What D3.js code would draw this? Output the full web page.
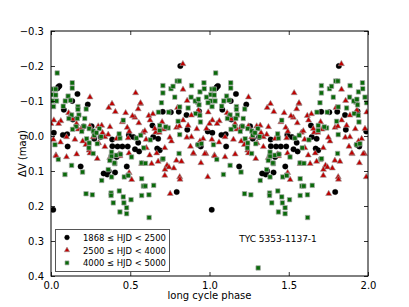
<!DOCTYPE html>
<html><head><meta charset="utf-8">
<script src="https://cdn.jsdelivr.net/npm/d3@7"></script>
<style>body{margin:0;background:#fff}svg{display:block}text{font-family:"DejaVu Sans",sans-serif;fill:#000}</style>
</head><body>
<script>
// phase in [0,1); each point is drawn at phase and phase+1
const black = [
[0.014,0.211],[0.040,-0.136],[0.046,-0.140],[0.053,-0.143],[0.167,-0.120],[0.232,-0.090],[0.134,-0.100],[0.138,-0.047],[0.081,-0.075],[0.816,-0.200],
[0.705,-0.069],[0.756,-0.068],[0.806,-0.069],[0.855,-0.060],[0.934,-0.071],[0.989,-0.013],[0.018,-0.009],[0.075,-0.003],[0.102,-0.005],[0.205,-0.027],
[0.256,-0.028],[0.105,0.030],[0.273,0.008],[0.313,0.003],[0.387,0.029],[0.420,0.030],[0.450,0.030],[0.484,0.030],[0.386,0.010],[0.414,0.060],
[0.435,0.053],[0.491,-0.003],[0.520,0.003],[0.550,0.019],[0.556,0.044],[0.530,0.038],[0.640,-0.030],[0.645,0.003],[0.676,0.008],[0.670,0.036],
[0.686,0.041],[0.860,-0.018],[0.929,0.025],[0.945,0.030],[0.187,0.087],[0.332,0.107],[0.355,0.110],[0.364,0.100],[0.404,0.104],[0.478,0.087],[0.793,0.160]
];
const red = [
[0.832,-0.206],[0.246,-0.111],[0.364,-0.081],[0.385,-0.092],[0.406,-0.069],[0.471,-0.066],[0.534,-0.123],[0.550,-0.077],[0.529,-0.053],[0.617,-0.058],
[0.643,-0.063],[0.625,-0.045],[0.833,-0.133],[0.798,-0.081],[0.859,-0.101],[0.111,-0.066],[0.124,-0.059],[0.137,-0.048],[0.018,-0.045],[0.062,-0.043],
[0.000,-0.035],[0.048,-0.035],[0.161,-0.035],[0.193,-0.021],[0.172,-0.019],[0.245,-0.028],[0.298,-0.028],[0.320,-0.030],[0.372,-0.026],[0.325,-0.009],
[0.340,0.003],[0.361,-0.004],[0.266,0.003],[0.098,0.003],[0.151,0.010],[0.481,-0.024],[0.494,-0.013],[0.487,0.006],[0.414,0.008],[0.978,0.051],
[0.098,0.060],[0.031,0.055],[0.241,0.041],[0.292,0.065],[0.435,0.057],[0.989,0.117],[0.564,-0.092],[0.514,-0.057],[0.554,-0.037],[0.701,-0.040],
[0.711,-0.019],[0.834,-0.045],[0.865,-0.030],[0.886,0.003],[0.960,0.008],[0.981,-0.021],[0.602,0.034],[0.718,0.034],[0.623,0.055],[0.676,0.073],
[0.791,0.070],[0.823,0.073],[0.900,0.051],[0.970,0.051],[0.732,0.084],[0.775,0.092],[0.718,0.113],[0.812,0.117],[0.493,0.105],[0.032,0.057],
[0.162,0.052],[0.246,0.049],[0.371,0.062],[0.429,0.052],[0.492,0.049],[0.509,0.125],[0.572,0.079],[0.635,0.079],[0.719,0.096],[0.744,0.089],
[0.814,0.124],[0.752,0.165],[0.898,0.049],[0.946,0.077],[0.667,0.049],[0.015,0.010],[0.060,0.018],[0.200,0.015],[0.220,0.025],[0.300,0.020],
[0.450,-0.040],[0.580,-0.010],[0.600,0.010],[0.660,-0.010],[0.760,0.015],[0.920,-0.020],[0.940,0.015],[0.880,0.030],[0.886,-0.059],[0.930,-0.073],
[0.992,-0.068],[0.792,-0.024],[0.810,-0.028],[0.683,-0.010],[0.750,0.004],[0.857,0.004],[0.565,-0.094],[0.592,-0.014],[0.655,-0.021],[0.340,0.031]
];
const green = [
[0.039,-0.180],[0.134,-0.152],[0.134,-0.137],[0.015,-0.134],[0.030,-0.134],[0.008,-0.118],[0.030,-0.117],[0.108,-0.114],[0.007,-0.100],[0.035,-0.100],
[0.090,-0.100],[0.123,-0.102],[0.077,-0.085],[0.016,-0.084],[0.170,-0.084],[0.170,-0.076],[0.222,-0.077],[0.130,-0.060],[0.176,-0.060],[0.213,-0.050],
[0.113,-0.050],[0.166,-0.050],[0.158,-0.027],[0.208,-0.028],[0.241,-0.021],[0.267,-0.014],[0.273,-0.002],[0.305,-0.021],[0.316,0.002],[0.194,-0.013],
[0.225,0.008],[0.136,-0.019],[0.241,0.020],[0.239,0.034],[0.292,0.022],[0.435,0.006],[0.430,-0.006],[0.382,0.046],[0.378,0.060],[0.403,0.079],
[0.046,0.067],[0.130,0.084],[0.088,0.110],[0.199,0.103],[0.361,0.096],[0.462,0.117],[0.025,0.025],[0.456,-0.045],[0.287,-0.009],[0.221,0.165],
[0.261,0.168],[0.320,0.127],[0.379,0.163],[0.379,0.170],[0.393,0.191],[0.400,0.077],[0.431,0.157],[0.435,0.217],[0.456,0.174],[0.460,0.191],
[0.477,0.205],[0.477,0.222],[0.488,0.112],[0.505,0.182],[0.382,0.117],[0.572,0.122],[0.583,0.143],[0.595,0.143],[0.648,0.141],[0.572,0.170],
[0.618,0.168],[0.619,0.233],[0.571,0.077],[0.596,0.078],[0.382,0.058],[0.413,0.055],[0.438,0.052],[0.266,0.050],[0.371,0.070],[0.702,0.067],
[0.808,0.050],[0.307,0.377],[0.697,-0.095],[0.781,-0.111],[0.812,-0.083],[0.865,-0.080],[0.913,-0.064],[0.939,-0.059],[0.943,-0.040],[0.924,-0.097],
[0.934,-0.089],[0.981,-0.111],[0.991,-0.095],[0.678,-0.068],[0.743,-0.068],[0.739,-0.023],[0.724,-0.026],[0.686,-0.016],[0.812,-0.004],[0.802,-0.042],
[0.928,0.025],[0.949,0.022],[0.539,0.006],[0.566,-0.002],[0.585,0.034],[0.508,0.060],[0.707,0.065],[0.487,0.113],[0.627,0.011],[0.686,-0.030],
[0.706,-0.144],[0.706,-0.123],[0.757,-0.135],[0.770,-0.142],[0.796,-0.157],[0.810,-0.157],[0.887,-0.144],[0.884,-0.111],[0.910,-0.100],[0.930,-0.105],
[0.940,-0.126],[0.965,-0.152],[0.967,-0.135]
];
const xTicks = [0.0, 0.5, 1.0, 1.5, 2.0];
const yTicks = [-0.3, -0.2, -0.1, 0.0, 0.1, 0.2, 0.3, 0.4];
const legendLabels = ["1868 \u2264 HJD < 2500", "2500 \u2264 HJD < 4000", "4000 \u2264 HJD < 5000"];
const xLabel = "long cycle phase", yLabel = "\u0394V (mag)", starName = "TYC 5353-1137-1";

const W = 409, H = 307, L = 51, R = 368, T = 31, B = 276;
const svg = d3.select("body").append("svg").attr("width", W).attr("height", H);
const x = d3.scaleLinear().domain([0, 2]).range([L, R]);
const y = d3.scaleLinear().domain([-0.3, 0.4]).range([T, B]);

svg.append("clipPath").attr("id","clip").append("rect").attr("x",L).attr("y",T).attr("width",R-L).attr("height",B-T);
const g = svg.append("g").attr("clip-path","url(#clip)");
const dup = arr => arr.flatMap(d => [[d[0], d[1]], [d[0] + 1, d[1]]]);

const styles = [
  {data: black, shape: d3.symbolCircle, size: 24, fill: "#000", stroke: "#000", sw: 0.3},
  {data: red, shape: d3.symbolTriangle, size: 16, fill: "#c00000", stroke: "#999", sw: 0.6},
  {data: green, shape: d3.symbolSquare, size: 20, fill: "#0a6a0a", stroke: "#aaa", sw: 0.7}
];
styles.forEach(s => {
  g.selectAll(null).data(dup(s.data)).enter().append("path")
    .attr("transform", d => `translate(${x(d[0])},${y(d[1])})`)
    .attr("d", d3.symbol().type(s.shape).size(s.size))
    .attr("fill", s.fill).attr("stroke", s.stroke).attr("stroke-width", s.sw);
});

const fmt = v => (v < 0 ? "\u2212" : "") + Math.abs(v).toFixed(1);
const fs = 10;
const axB = d3.axisBottom(x).tickValues(xTicks).tickSize(-4).tickPadding(6).tickFormat(fmt);
const axT = d3.axisTop(x).tickValues(xTicks).tickSize(-4).tickFormat("");
const axL = d3.axisLeft(y).tickValues(yTicks).tickSize(-4).tickPadding(7).tickFormat(fmt);
const axR = d3.axisRight(y).tickValues(yTicks).tickSize(-4).tickFormat("");
[[axB, `translate(0,${B})`], [axT, `translate(0,${T})`], [axL, `translate(${L},0)`], [axR, `translate(${R},0)`]].forEach(([a, tr]) => {
  const gg = svg.append("g").attr("transform", tr).call(a);
  gg.select(".domain").remove();
  gg.selectAll("line").attr("stroke", "#000").attr("stroke-width", 0.8);
  gg.selectAll("text").attr("font-size", fs).attr("font-family", "DejaVu Sans");
});
svg.append("rect").attr("x", L).attr("y", T).attr("width", R - L).attr("height", B - T)
  .attr("fill", "none").attr("stroke", "#000").attr("stroke-width", 1);

svg.append("text").attr("x", (L + R) / 2).attr("y", 299).attr("text-anchor", "middle").attr("font-size", fs).text(xLabel);
svg.append("text").attr("transform", `translate(26,${(T + B) / 2}) rotate(-90)`).attr("text-anchor", "middle").attr("font-size", fs).text(yLabel);
svg.append("text").attr("x", 278).attr("y", 242).attr("text-anchor", "middle").attr("font-size", 9).text(starName);

// legend
const lg = svg.append("g");
lg.append("rect").attr("x", 55.5).attr("y", 229.5).attr("width", 114).attr("height", 42)
  .attr("fill", "#fff").attr("stroke", "#555").attr("stroke-width", 1);
styles.forEach((s, i) => {
  const yy = 237.5 + i * 12.7;
  lg.append("path").attr("transform", `translate(67,${yy})`)
    .attr("d", d3.symbol().type(s.shape).size(s.size * 0.8))
    .attr("fill", s.fill).attr("stroke", s.stroke).attr("stroke-width", s.sw);
  const t = lg.append("text").attr("x", 83).attr("y", yy + 3.5).attr("font-size", 9).text(legendLabels[i]);
  const w = t.node().getComputedTextLength();
  if (w > 83) t.attr("font-size", 9 * 83 / w);
});
</script>
</body></html>
